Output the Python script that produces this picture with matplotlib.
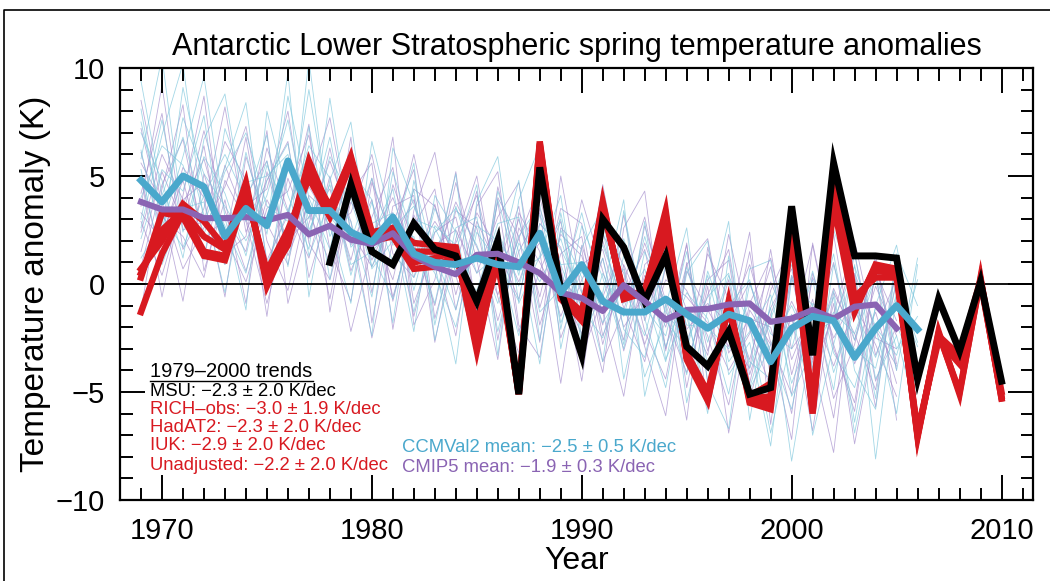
import matplotlib
matplotlib.use("Agg")
import matplotlib.pyplot as plt
from matplotlib.lines import Line2D
import numpy as np

plt.rcParams['font.family'] = ['Liberation Sans', 'DejaVu Sans']

# ---------------- data ----------------
obs_years = list(range(1969, 2011))
msu_years = list(range(1978, 2011))
cmip5_years = list(range(1969, 2006))
ccmval_years = list(range(1969, 2007))

msu = [1.0, 4.6, 1.5, 0.9, 2.8, 1.6, 1.3, -0.8, 2.0, -5.1, 5.4, -0.3, -3.3,
       3.0, 1.7, -0.8, 1.3, -2.9, -3.8, -2.2, -5.1, -4.8, 3.6, -3.3, 5.6,
       1.3, 1.3, 1.2, -4.4, -0.7, -3.1, 0.1, -4.5]

rich_obs = [0.7, 2.0, 3.7, 2.9, 1.7, 4.7, -0.1, 2.0, 5.7, 3.4, 5.9, 2.4, 2.6,
            1.9, 1.8, 1.7, -3.1, 1.5, -5.1, 6.6, -0.6, -1.7, 3.8, -0.7, -0.4,
            3.4, -3.5, -5.4, -0.8, -5.5, -5.8, 2.4, -6.0, 3.7, -1.3, 0.9, 0.7,
            -7.1, -2.2, -5.1, 0.3, -5.3]
hadat2 = [0.3, 3.3, 3.1, 1.3, 1.1, 4.2, 0.6, 2.5, 4.9, 3.1, 5.6, 2.0, 2.2,
          0.7, 0.8, 1.3, -1.7, 1.2, -5.0, 6.2, -0.4, -1.3, 3.5, -0.4, -0.6,
          2.2, -3.2, -5.0, -1.1, -5.2, -4.6, 2.8, -5.6, 5.5, -0.6, 0.3, 0.3,
          -6.8, -2.6, -3.7, 0.1, -5.2]
iuk = [-1.3, 1.4, 3.3, 1.5, 1.3, 4.4, 0.4, 2.2, 5.3, 3.6, 5.8, 2.2, 2.4,
       1.0, 1.2, 1.5, -2.5, 1.0, -5.0, 6.4, -0.5, -1.5, 3.6, -0.5, -0.5,
       2.8, -3.4, -5.2, -1.0, -5.3, -5.2, 2.6, -5.8, 4.5, -0.9, 0.6, 0.5,
       -7.0, -2.4, -3.3, 0.2, -5.0]
unadjusted = [0.5, 2.5, 3.4, 2.2, 1.6, 4.5, 0.2, 1.8, 5.5, 3.3, 5.7, 2.3, 2.5,
              1.5, 1.5, 1.6, -2.9, 1.3, -5.1, 6.5, -0.7, -1.6, 3.7, -0.6, -0.3,
              3.2, -3.4, -5.3, -0.9, -5.4, -5.5, 2.5, -5.9, 4.0, -1.1, 0.8, 0.6,
              -7.0, -2.3, -5.0, 0.2, -5.3]

ccmval2_mean = [4.8, 3.8, 5.0, 4.5, 2.2, 3.5, 2.7, 5.7, 3.4, 3.4, 2.4, 1.95,
                3.1, 1.4, 1.0, 0.9, 1.2, 0.9, 0.8, 2.35, -0.4, 0.9, -0.8, -1.3,
                -1.3, -0.7, -1.4, -2.05, -1.4, -1.7, -3.6, -2.05, -1.5, -1.7,
                -3.4, -2.05, -1.0, -2.1]
cmip5_mean = [3.8, 3.45, 3.45, 3.05, 3.05, 3.1, 2.95, 3.2, 2.3, 2.7, 2.05,
              1.85, 2.35, 1.3, 0.8, 0.45, 1.35, 1.4, 1.0, 0.5, -0.4, -0.65,
              -1.25, -0.05, -0.8, -1.65, -1.2, -1.15, -0.95, -0.9, -1.75,
              -1.6, -1.2, -1.6, -1.05, -0.95, -2.05]

cmip5_members = [
    [6.1, 2.3, 4.8, 1.2, 5.5, 3.0, 0.4, 4.9, 2.1, 6.3, 1.8, 3.9, -0.6, 2.7, 4.4, -1.2, 2.9, 0.8, 3.6, -1.9, 1.4, 2.2, -2.8, 0.9, -1.4, 2.1, -3.7, -0.5, 1.6, -4.2, -1.1, 0.7, -3.5, -0.2, -2.6, 1.1, -4.0],
    [1.5, 5.2, 2.8, 6.4, 0.9, 4.1, 5.7, 1.3, 3.8, -0.7, 4.6, 1.1, 3.3, -1.5, 2.4, 3.1, -0.9, 3.8, -2.2, 0.6, 2.9, -1.8, 1.2, -3.1, 0.4, -2.0, 1.8, -4.5, -1.6, 0.9, -2.7, -5.1, 0.3, -1.9, 1.4, -3.3, -0.8],
    [4.2, 7.9, 1.6, 3.5, 8.2, 2.4, 4.8, 6.6, 0.3, 3.7, 5.1, -0.4, 4.6, 1.9, -1.0, 3.4, 2.6, -1.7, 1.5, 3.3, -2.5, 0.2, 2.0, -1.1, -3.6, 0.8, -0.3, -2.4, -5.6, -0.9, 1.2, -3.0, -1.6, -6.2, 0.5, -2.1, -3.8],
    [2.9, 0.4, 3.7, 5.8, 2.2, 0.1, 3.5, 4.3, 6.9, 1.6, -0.8, 4.7, 2.1, 3.9, 0.6, 5.2, -1.4, 2.3, 0.1, 2.8, 1.7, -3.3, -0.6, 1.9, -2.2, -4.4, 0.6, -1.2, -2.9, 1.5, -4.3, -1.5, -6.8, -0.4, -2.3, -4.9, 0.2],
    [5.6, 3.8, 0.7, 2.6, 4.5, 7.3, 2.0, -0.3, 4.1, 3.2, 5.9, 2.6, 0.2, 4.4, 3.6, 0.9, 4.3, -2.6, 2.6, 1.0, -0.9, 3.9, 0.6, -2.6, 2.7, -0.8, -2.9, 1.4, -0.7, -3.5, 0.1, -2.2, 1.8, -3.0, -5.5, 0.6, -1.7],
    [0.8, 4.6, 6.7, 2.0, 3.1, 1.5, 6.3, 3.4, 1.2, 5.0, 0.6, 3.1, 5.4, -0.9, 1.8, 2.5, 0.5, 3.1, 4.7, -1.1, 2.3, 1.3, -1.9, 3.2, -1.7, 1.4, -1.2, -3.3, 2.3, -2.1, -4.8, 0.4, -2.2, 1.0, -3.7, -1.3, -4.6],
    [3.3, 2.0, 5.4, 4.0, -0.6, 5.9, 2.8, 0.9, 5.3, 2.5, 3.3, 6.0, 1.4, 0.3, 3.7, -0.5, 3.3, 1.6, -0.7, 4.0, 0.4, -1.0, 4.6, -0.5, 1.6, -3.0, 0.9, 2.1, -3.2, -1.6, -2.0, -6.0, 0.5, -2.5, -0.6, -5.7, 1.2],
    [7.2, 3.1, 2.2, 0.3, 4.8, 2.9, -0.9, 2.7, 4.6, 7.7, 2.4, 0.8, 2.8, 5.3, -1.6, 1.9, 4.1, 0.2, 3.0, -0.6, 3.5, 2.8, -2.4, 0.1, 3.1, -1.5, -4.1, 0.2, 1.1, -4.6, -0.3, 1.9, -4.0, -1.4, 2.0, -2.5, -3.0],
    [2.4, 6.0, 3.9, 4.7, 1.7, 3.6, 4.4, 8.0, 1.9, 0.2, 3.8, 2.2, 4.0, 1.2, 2.9, 1.4, -2.0, 4.5, 0.7, 1.9, -1.5, 0.9, 1.6, -2.0, -0.5, 3.0, -2.1, -0.9, -1.8, 0.1, -3.2, -0.8, -2.9, 2.3, -3.4, -0.1, -2.4],
    [4.9, 1.1, 3.2, 7.1, 3.4, 0.6, 3.9, 2.0, 3.1, 4.4, 1.1, 4.9, -0.8, 3.2, 1.1, 3.8, 1.7, -0.5, 2.1, 4.6, -0.2, -2.3, 3.1, 0.8, -2.8, 0.2, -0.6, -1.8, -4.0, -2.3, 0.8, -3.5, -1.1, -3.8, -1.0, -2.8, -5.2],
    [8.5, 3.6, -0.8, 5.1, 2.0, 6.8, 1.1, 3.2, 7.4, -1.3, 4.2, 5.6, -2.1, 3.4, 6.1, 0.4, -3.0, 4.0, 2.2, -2.7, 5.0, -0.4, -4.1, 2.6, 4.3, -3.1, 1.9, -5.8, -2.0, 2.4, -6.5, 0.3, -3.6, -7.8, 0.4, -4.5, -1.9],
    [-1.2, 4.4, 8.3, 0.6, 3.9, -0.9, 5.2, 1.8, 4.5, 2.9, -2.2, 1.7, 6.8, -1.9, 0.2, 4.7, 1.1, -3.5, 3.3, 1.5, -4.6, 1.8, -1.3, -5.2, 0.9, 1.8, -4.8, -0.1, -6.9, -1.2, -2.8, -7.2, 1.9, -2.8, -5.9, 0.7, -6.3],
    [3.6, 9.2, 2.5, 2.9, 6.6, 4.8, -1.5, 5.6, 3.3, 1.0, 6.8, -1.8, 3.6, 4.1, -2.7, 2.1, 5.0, -0.6, -3.2, 3.5, 0.8, -4.5, 2.3, 0.5, -2.9, -6.1, 1.0, -3.1, 0.2, -5.4, -1.4, 1.1, -5.1, -0.9, -7.4, -2.2, 0.3],
    [5.0, -0.6, 4.1, 8.7, 1.4, 2.2, 7.1, -0.9, 2.8, 5.7, 2.9, -2.5, 2.0, 6.0, 1.4, -2.4, 3.6, 5.2, -1.9, -3.4, 2.6, 1.6, -3.6, -1.2, 1.9, -1.0, -6.3, 1.7, -2.4, -3.9, 1.6, -4.2, -0.7, -5.3, -2.8, 1.3, -3.7],
]
ccmval2_members = [
    [9.4, 4.1, 6.8, 3.2, 0.9, 6.1, 2.3, 8.7, 4.0, 1.6, 5.8, 2.2, 4.4, -0.3, 3.5, 1.2, -1.4, 3.9, 0.4, 5.1, -2.1, 2.7, 0.3, -3.0, 1.5, -0.9, -4.2, 0.6, -2.2, -4.8, -1.6, 0.9, -3.9, -0.3, -6.4, -1.0, 1.8, -3.6],
    [3.0, 7.6, 2.4, 5.9, 4.2, 1.3, 5.5, 3.3, 6.4, 4.9, 0.4, 3.8, 1.0, 4.4, -1.9, 2.6, 3.1, -2.2, 1.9, 0.1, 2.1, -1.1, -2.5, 1.3, -0.5, -3.6, 0.8, -2.7, 0.4, -1.9, -6.9, -2.4, 0.2, -4.1, -1.2, -3.4, -0.5, -2.9],
    [6.2, 1.9, 9.1, 4.6, 2.7, 0.5, 4.8, 6.5, 1.3, 3.9, 2.9, -0.6, 5.2, 2.0, 0.5, -2.0, 2.4, 1.0, -0.8, 4.3, 0.9, -1.7, 2.5, -2.1, -3.4, 0.9, -1.5, -5.3, -1.0, 0.2, -3.5, -1.4, -5.5, 0.9, -2.6, 0.3, -4.0, 1.2],
    [2.1, 5.3, 4.3, 7.8, 1.0, 3.7, 6.9, 0.8, 7.3, 2.2, 4.1, 1.4, -0.7, 3.0, 2.6, 0.6, -0.3, 2.8, 3.1, -1.3, -0.2, 3.3, -0.9, 0.7, -4.3, -1.7, -3.0, 0.4, -3.6, -2.2, -0.5, -4.6, -2.0, 2.5, -0.2, -5.3, 1.4, -1.0],
    [7.5, 3.2, 1.7, 4.1, 6.0, 3.9, 0.1, 5.8, 3.0, 6.8, 1.7, 2.8, 3.3, 0.3, 2.4, 3.5, 1.8, -0.9, 2.2, 3.7, -1.8, 0.6, -1.2, 2.1, -1.1, -2.4, 1.5, -3.8, -1.3, -3.6, -4.4, 0.4, -2.3, -1.7, 0.8, -2.0, -3.3, 0.2],
    [4.0, 6.4, 5.5, 2.3, 5.2, 7.0, 3.6, 2.9, 9.0, 3.1, 2.0, 4.9, 1.8, 2.2, -0.9, 3.6, 0.5, 1.4, -2.4, 2.8, 1.6, -0.4, 1.8, -0.9, 0.7, -2.9, -0.4, -1.6, -5.1, 0.0, -2.3, -3.0, 0.6, -3.2, -4.8, -1.1, -1.9, -4.2],
    [1.2, 2.8, 7.7, 5.1, 3.6, 2.0, 4.1, 7.6, 2.5, 4.6, 0.9, 1.5, 2.6, 3.6, 1.3, -1.2, 2.7, 2.0, 0.6, 1.2, 3.0, -2.8, 0.5, -1.5, 2.2, -1.3, -2.6, -0.6, 0.5, -4.9, -2.8, -1.0, -3.2, -1.3, -2.3, 0.5, -3.0, -1.5],
    [5.3, 0.9, 3.5, 3.8, -0.4, 4.7, 5.0, 6.0, 2.3, 5.9, 3.9, 0.8, 3.2, -1.3, 2.7, 1.8, -0.6, 2.5, -0.1, 3.2, 0.9, 1.0, -1.8, -0.2, -2.4, 1.4, -1.9, -2.0, -3.0, -0.8, -3.1, -5.8, -0.9, -1.6, -3.0, -3.9, 0.1, -2.7],
    [5.8, 10.5, 3.0, 1.1, 7.2, 4.4, 2.6, 9.8, -0.6, 4.8, 7.5, 0.7, 2.0, 5.6, -2.6, 1.5, 4.6, -3.3, 3.9, 6.4, -3.0, 1.7, 3.5, -4.4, 0.1, 2.4, -5.5, -1.2, 2.9, -6.3, -0.8, 1.6, -7.0, -2.8, 0.9, -8.1, -0.4, -5.0],
    [8.1, 2.6, 5.9, 9.6, 3.1, -1.2, 8.0, 4.1, 1.6, 8.6, 2.3, -2.4, 6.3, 3.7, 0.9, -3.7, 3.8, 5.9, -0.9, 1.3, 4.1, -2.5, -0.4, 3.9, -5.2, -1.0, 2.6, -4.6, -6.7, 0.7, 1.1, -5.2, -3.0, -0.6, -6.9, -2.0, -6.0, 0.9],
    [2.6, 6.9, 10.2, 2.8, 5.4, 8.4, 0.9, 3.4, 6.1, 0.2, 5.3, 3.9, -1.8, 4.8, 1.0, 5.1, -2.8, 0.8, 4.8, -2.6, 2.5, 0.3, -3.6, 3.4, -1.6, -4.8, 0.5, 2.0, -4.2, -2.7, -7.5, 0.2, -1.0, -4.9, 1.5, -4.4, -2.4, -6.2],
    [7.0, 4.8, 1.2, 6.7, 8.8, 2.9, 5.7, 1.5, 10.4, 2.7, -0.9, 6.6, 2.7, -2.2, 4.1, 2.4, -1.7, 4.3, 1.5, -3.7, 3.3, -1.3, 1.2, -2.8, 2.9, -3.5, -1.2, -6.0, 1.3, -3.9, -1.1, -8.2, -2.4, 1.4, -4.0, -5.8, 1.0, -3.8],
]

trend_title = "1979\u20132000 trends"
obs_labels = ["MSU: \u22122.3 \u00b1 2.0 K/dec",
              "RICH\u2013obs: \u22123.0 \u00b1 1.9 K/dec",
              "HadAT2: \u22122.3 \u00b1 2.0 K/dec",
              "IUK: \u22122.9 \u00b1 2.0 K/dec",
              "Unadjusted: \u22122.2 \u00b1 2.0 K/dec"]
model_labels = ["CCMVal2 mean: \u22122.5 \u00b1 0.5 K/dec",
                "CMIP5 mean: \u22121.9 \u00b1 0.3 K/dec"]

# ---------------- style ----------------
RED = "#d81920"
BLUE = "#4aa8cc"
PURPLE = "#8a64b3"
THIN_BLUE = "#7cc6dc"
THIN_PURPLE = "#a38ccc"

fig = plt.figure(figsize=(10.5, 5.81), dpi=100)
W, H = 1050, 581
ax = fig.add_axes([120 / W, 1 - 500 / H, 913 / W, 432 / H])

for m in cmip5_members:
    ax.plot(cmip5_years, m, color=THIN_PURPLE, lw=0.6, alpha=0.7, zorder=1)
for m in ccmval2_members:
    ax.plot(ccmval_years, m, color=THIN_BLUE, lw=0.6, alpha=0.7, zorder=1)

ax.axhline(0, color='black', lw=1.3, zorder=2)

for s in [unadjusted, iuk, hadat2, rich_obs]:
    ax.plot(obs_years, s, color=RED, lw=4.6, zorder=3, solid_joinstyle='miter')
ax.plot(msu_years, msu, color='black', lw=5.0, zorder=4, solid_joinstyle='miter')
ax.plot(cmip5_years, cmip5_mean, color=PURPLE, lw=4.4, zorder=5)
ax.plot(ccmval_years, ccmval2_mean, color=BLUE, lw=5.0, zorder=6)

ax.set_xlim(1968, 2011.5)
ax.set_ylim(-10, 10)
ax.set_xticks([1970, 1980, 1990, 2000, 2010])
ax.set_xticks(range(1968, 2012), minor=True)
ax.set_yticks([-10, -5, 0, 5, 10])
ax.set_yticks(range(-10, 11), minor=True)
ax.tick_params(which='both', direction='in', top=True, right=True, width=1.4,
               labelsize=21)
ax.tick_params(which='major', length=18)
ax.tick_params(which='minor', length=9)
ax.tick_params(axis='x', which='major', pad=12)
ax.tick_params(axis='y', which='major', pad=11)
for sp in ax.spines.values():
    sp.set_linewidth(1.6)

ax.set_xlabel("Year", fontsize=23, labelpad=1)
ax.set_ylabel("Temperature anomaly (K)", fontsize=24, labelpad=3)
ax.set_title("Antarctic Lower Stratospheric spring temperature anomalies",
             fontsize=22, pad=9)

# annotation text (pixel positions converted to data)
def px2data(x, y):
    return 1970 + (x - 161.7) / 21.0, (284 - y) / 21.6

fs = 13.3
tx, ty = px2data(150, 377)
t0 = ax.text(tx, ty, trend_title, color='black', fontsize=14.5, va='baseline', ha='left')
ys = [391, 410, 428, 446, 465]
cols = ['black', RED, RED, RED, RED]
for lab, yy, c in zip(obs_labels, ys, cols):
    x_, y_ = px2data(150, yy)
    ax.text(x_, y_, lab, color=c, fontsize=fs, va='center', ha='left')
for lab, yy, c in zip(model_labels, [448, 467], [BLUE, PURPLE]):
    x_, y_ = px2data(402, yy)
    ax.text(x_, y_, lab, color=c, fontsize=fs, va='center', ha='left')

fig.canvas.draw()
bb = t0.get_window_extent()
uy = (H - 380.5) / H
fig.add_artist(Line2D([bb.x0 / W, bb.x1 / W], [uy, uy],
                      transform=fig.transFigure, color='black', lw=1.0))

# figure frame
fig.add_artist(Line2D([4 / W, 4 / W, 1.0], [0.0, 1 - 10 / H, 1 - 10 / H],
                      transform=fig.transFigure, color='black', lw=1.2))

fig.savefig("out.png", dpi=100)
